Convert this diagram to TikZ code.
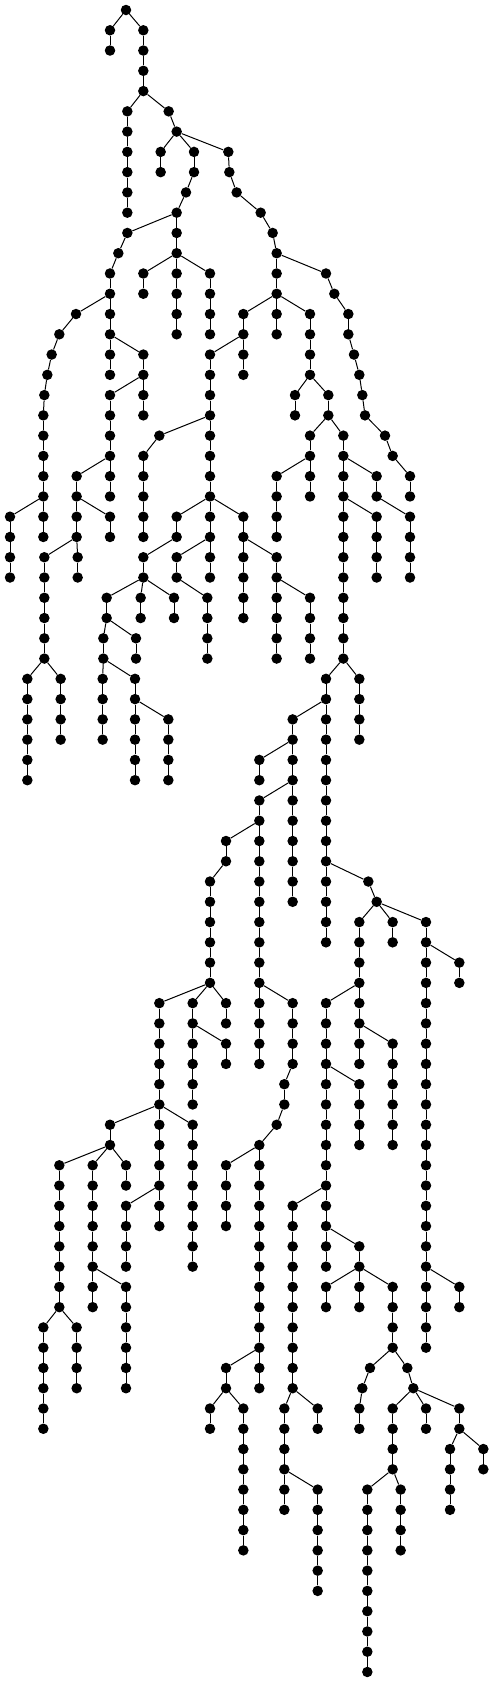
\documentclass[tikz,border=0pt]{standalone}
\tikzset{
  dot/.style={circle,fill=black,draw=none,inner sep=0pt,minimum size=10.5pt},
  edge/.style={draw=black,line width=1pt}
}
\newcommand\mkdot[2]{\node[dot] (n#1-#2) at ({#1/3},{10+20.268*#2}) {};}
\newcommand\col[3]{%
  \foreach \L in {#2,...,#3}{%
    \mkdot{#1}{\L}%
    \ifnum\L>#2 \pgfmathtruncatemacro\P{\L-1}\draw[edge] (n#1-\P) -- (n#1-\L);\fi
  }%
}
\begin{document}
\begin{tikzpicture}[x=1pt,y=-1pt]
\useasboundingbox (0,0) rectangle (494,1682);
\col{378}{0}{0}
\col{330}{1}{2}
\col{430}{1}{4}
\col{382}{5}{10}
\col{506}{5}{5}
\col{530}{6}{6}
\col{482}{7}{8}
\col{582}{7}{8}
\col{685}{7}{7}
\col{688}{8}{8}
\col{558}{9}{9}
\col{710}{9}{9}
\col{530}{10}{12}
\col{782}{10}{10}
\col{382}{11}{11}
\col{818}{11}{11}
\col{355}{12}{12}
\col{830}{12}{14}
\col{330}{13}{18}
\col{430}{13}{14}
\col{530}{13}{16}
\col{630}{13}{16}
\col{978}{13}{13}
\col{1003}{14}{14}
\col{228}{15}{15}
\col{730}{15}{18}
\col{830}{15}{16}
\col{930}{15}{18}
\col{1045}{15}{16}
\col{178}{16}{16}
\col{155}{17}{17}
\col{430}{17}{20}
\col{630}{17}{28}
\col{1062}{17}{17}
\col{142}{18}{18}
\col{1078}{18}{18}
\col{133}{19}{19}
\col{330}{19}{24}
\col{885}{19}{20}
\col{985}{19}{20}
\col{1087}{19}{19}
\col{130}{20}{26}
\col{1095}{20}{20}
\col{478}{21}{21}
\col{930}{21}{24}
\col{1030}{21}{32}
\col{1155}{21}{21}
\col{430}{22}{26}
\col{1178}{22}{22}
\col{230}{23}{26}
\col{830}{23}{26}
\col{1130}{23}{24}
\col{1230}{23}{24}
\col{30}{25}{28}
\col{330}{25}{26}
\col{530}{25}{26}
\col{730}{25}{30}
\col{1130}{25}{28}
\col{1230}{25}{28}
\col{133}{27}{32}
\col{233}{27}{28}
\col{430}{27}{28}
\col{530}{27}{28}
\col{830}{27}{32}
\col{320}{29}{30}
\col{422}{29}{30}
\col{522}{29}{30}
\col{622}{29}{32}
\col{930}{29}{32}
\col{310}{31}{32}
\col{408}{31}{32}
\col{82}{33}{38}
\col{182}{33}{36}
\col{308}{33}{36}
\col{405}{33}{38}
\col{978}{33}{46}
\col{1078}{33}{36}
\col{505}{35}{38}
\col{878}{35}{44}
\col{778}{37}{38}
\col{778}{39}{52}
\col{678}{41}{42}
\col{630}{43}{48}
\col{1105}{43}{43}
\col{1130}{44}{44}
\col{1078}{45}{52}
\col{1178}{45}{46}
\col{1278}{45}{66}
\col{1378}{47}{48}
\col{478}{49}{60}
\col{578}{49}{54}
\col{678}{49}{50}
\col{878}{49}{52}
\col{978}{49}{62}
\col{678}{51}{52}
\col{1178}{51}{56}
\col{853}{53}{54}
\col{1078}{53}{56}
\col{330}{55}{56}
\col{578}{55}{62}
\col{830}{55}{55}
\col{778}{56}{68}
\col{178}{57}{64}
\col{278}{57}{64}
\col{378}{57}{58}
\col{678}{57}{60}
\col{378}{59}{62}
\col{878}{59}{68}
\col{1078}{61}{64}
\col{378}{63}{68}
\col{978}{63}{64}
\col{1178}{63}{66}
\col{1378}{63}{64}
\col{130}{65}{70}
\col{230}{65}{68}
\col{678}{67}{68}
\col{1110}{67}{67}
\col{1222}{67}{67}
\col{1087}{68}{68}
\col{1240}{68}{68}
\col{630}{69}{70}
\col{730}{69}{76}
\col{853}{69}{74}
\col{953}{69}{70}
\col{1078}{69}{70}
\col{1178}{69}{72}
\col{1278}{69}{70}
\col{1378}{69}{70}
\col{1350}{71}{74}
\col{1450}{71}{72}
\col{953}{73}{78}
\col{1102}{73}{82}
\col{1202}{73}{76}
\foreach \p/\c in {
378-0/330-1, 378-0/430-1,
430-4/382-5, 430-4/506-5, 506-5/530-6,
530-6/482-7, 530-6/582-7, 530-6/685-7,
582-8/558-9, 558-9/530-10, 530-10/382-11, 382-11/355-12, 355-12/330-13,
685-7/688-8, 688-8/710-9, 710-9/782-10, 782-10/818-11, 818-11/830-12,
530-12/430-13, 530-12/530-13, 530-12/630-13,
830-12/978-13, 978-13/1003-14, 1003-14/1045-15,
330-14/228-15, 228-15/178-16, 178-16/155-17, 155-17/142-18, 142-18/133-19, 133-19/130-20,
830-14/730-15, 830-14/830-15, 830-14/930-15,
330-16/430-17, 730-16/630-17,
1045-16/1062-17, 1062-17/1078-18, 1078-18/1087-19, 1087-19/1095-20, 1095-20/1155-21, 1155-21/1178-22, 1178-22/1230-23,
430-18/330-19,
930-18/885-19, 930-18/985-19,
630-20/478-21,
985-20/930-21, 985-20/1030-21,
478-21/430-22,
330-22/230-23, 930-22/830-23, 1030-22/1130-23,
130-24/30-25, 230-24/330-25, 630-24/530-25, 630-24/730-25, 1030-24/1130-25, 1130-24/1230-25,
230-26/133-27, 230-26/233-27, 530-26/430-27, 630-26/530-27, 730-26/830-27,
430-28/320-29, 430-28/422-29, 430-28/522-29, 530-28/622-29, 830-28/930-29,
320-30/310-31, 320-30/408-31,
133-32/82-33, 133-32/182-33, 310-32/308-33, 310-32/405-33, 1030-32/978-33, 1030-32/1078-33,
405-34/505-35, 978-34/878-35,
878-36/778-37, 878-38/778-39, 778-40/678-41, 678-42/630-43,
978-42/1105-43, 1105-43/1130-44, 1130-44/1078-45, 1130-44/1178-45, 1130-44/1278-45,
1278-46/1378-47,
630-48/478-49, 630-48/578-49, 630-48/678-49, 778-48/878-49, 1078-48/978-49,
578-50/678-51, 1078-50/1178-51,
878-52/853-53, 978-52/1078-53,
853-54/830-55, 478-54/330-55, 478-54/578-55,
830-55/778-56,
330-56/178-57, 330-56/278-57, 330-56/378-57, 778-56/678-57,
478-58/378-59, 978-58/878-59,
978-60/1078-61,
278-62/378-63, 1078-62/978-63, 1078-62/1178-63, 1278-62/1378-63,
178-64/130-65, 178-64/230-65,
778-66/678-67, 1178-66/1110-67, 1178-66/1222-67,
1110-67/1087-68, 1087-68/1078-69, 1222-67/1240-68,
1240-68/1178-69, 1240-68/1278-69, 1240-68/1378-69,
678-68/630-69, 678-68/730-69, 878-68/853-69, 878-68/953-69,
1378-70/1350-71, 1378-70/1450-71,
853-72/953-73, 1178-72/1102-73, 1178-72/1202-73}
  \draw[edge] (n\p) -- (n\c);
\end{tikzpicture}
\end{document}
